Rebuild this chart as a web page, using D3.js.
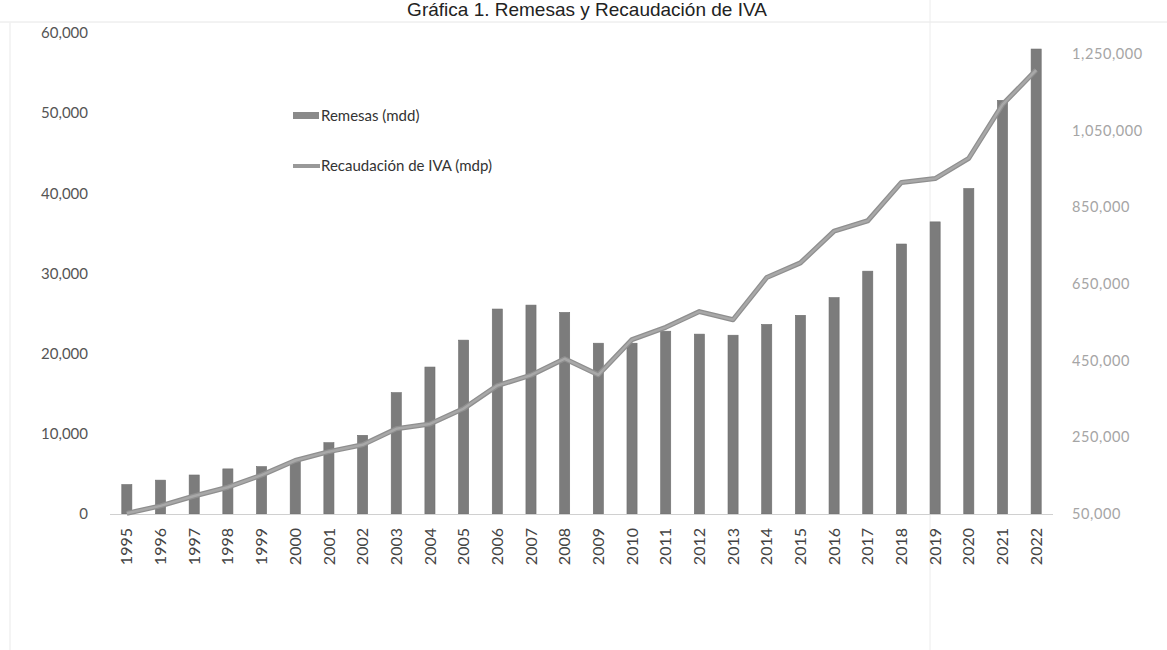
<!DOCTYPE html>
<html>
<head>
<meta charset="utf-8">
<script src="https://cdn.jsdelivr.net/npm/d3@7/dist/d3.min.js"></script>
<style>
  html, body { margin: 0; padding: 0; background: #ffffff; }
  svg { display: block; }
</style>
</head>
<body>
<svg id="chart" width="1167" height="650"></svg>
<script>
// ---- data ----
const years = ["1995","1996","1997","1998","1999","2000","2001","2002","2003","2004","2005","2006","2007","2008","2009","2010","2011","2012","2013","2014","2015","2016","2017","2018","2019","2020","2021","2022"];
const remesas = [3673, 4224, 4865, 5627, 5910, 6573, 8895, 9815, 15139, 18332, 21688, 25567, 26059, 25145, 21306, 21304, 22803, 22438, 22303, 23647, 24785, 26993, 30291, 33677, 36439, 40601, 51594, 58000];
const iva = [51759, 71250, 96934, 119839, 151340, 189606, 212636, 230637, 272149, 285023, 325000, 385000, 412000, 455000, 413000, 505000, 537000, 578000, 556800, 667000, 705000, 788000, 815000, 915000, 925000, 978000, 1118000, 1208000];
const leftTicks = [0, 10000, 20000, 30000, 40000, 50000, 60000];
const rightTicks = [50000, 250000, 450000, 650000, 850000, 1050000, 1250000];
const titleText = "Gráfica 1. Remesas y Recaudación de IVA";
const legendLabels = ["Remesas (mdd)", "Recaudación de IVA (mdp)"];

// ---- layout ----
const svg = d3.select("#chart");
const plot = { left: 110, right: 1053, top: 33, bottom: 514 };

const x = d3.scaleBand().domain(years).range([plot.left, plot.right]).paddingInner(0.7).paddingOuter(0.35);
const yL = d3.scaleLinear().domain([0, 60000]).range([plot.bottom, plot.top]);
const yR = d3.scaleLinear().domain([50000, 1250000]).range([plot.bottom, 54]);

const fmt = d3.format(",");

// faint frame / scan lines
svg.append("line").attr("x1", 0).attr("x2", 1167).attr("y1", 22).attr("y2", 22)
  .attr("stroke", "#e6e6e6").attr("stroke-width", 1);
svg.append("line").attr("x1", 10).attr("x2", 10).attr("y1", 22).attr("y2", 650)
  .attr("stroke", "#f0f0f0").attr("stroke-width", 1.5);
svg.append("line").attr("x1", 930).attr("x2", 930).attr("y1", 0).attr("y2", 650)
  .attr("stroke", "#ececec").attr("stroke-width", 1);

// title
svg.append("text")
  .attr("x", 587).attr("y", 16)
  .attr("text-anchor", "middle")
  .attr("font-family", "Liberation Sans, Arial, sans-serif")
  .attr("font-size", 19)
  .attr("fill", "#222")
  .text(titleText);

// bars
svg.append("g").selectAll("rect")
  .data(years.map((yr, i) => ({ yr, v: remesas[i] })))
  .join("rect")
  .attr("x", d => x(d.yr))
  .attr("width", x.bandwidth())
  .attr("y", d => yL(d.v))
  .attr("height", d => yL(0) - yL(d.v))
  .attr("fill", "#7c7c7c")
  .attr("stroke", "#6e6e6e")
  .attr("stroke-width", 0.6);

// baseline
svg.append("line")
  .attr("x1", plot.left).attr("x2", plot.right)
  .attr("y1", yL(0) + 0.5).attr("y2", yL(0) + 0.5)
  .attr("stroke", "#d0d0d0").attr("stroke-width", 1);

// IVA line
const line = d3.line()
  .x((d, i) => x(years[i]) + x.bandwidth() / 2)
  .y(d => yR(d));
svg.append("path")
  .datum(iva)
  .attr("d", line)
  .attr("fill", "none")
  .attr("stroke", "#8f8f8f")
  .attr("stroke-width", 5)
  .attr("stroke-linejoin", "round");
svg.append("path")
  .datum(iva)
  .attr("d", line)
  .attr("fill", "none")
  .attr("stroke", "#a8a8a8")
  .attr("stroke-width", 2.5)
  .attr("stroke-linejoin", "round");

// left axis
const gL = svg.append("g")
  .attr("transform", `translate(${plot.left},0)`)
  .call(d3.axisLeft(yL).tickValues(leftTicks).tickFormat(fmt).tickSize(0).tickPadding(22));
gL.select(".domain").remove();
gL.selectAll("text")
  .attr("font-family", "Lato, 'Open Sans', sans-serif")
  .attr("font-size", 15)
  .attr("fill", "#555");

// right axis
const gR = svg.append("g")
  .attr("transform", `translate(${plot.right},0)`)
  .call(d3.axisRight(yR).tickValues(rightTicks).tickFormat(fmt).tickSize(0).tickPadding(19));
gR.select(".domain").remove();
gR.selectAll("text")
  .attr("font-family", "Lato, 'Open Sans', sans-serif")
  .attr("font-size", 14.5)
  .attr("letter-spacing", 0.6)
  .attr("fill", "#a5a5a5");

// x axis (rotated labels)
const gX = svg.append("g")
  .attr("transform", `translate(0,${plot.bottom})`)
  .call(d3.axisBottom(x).tickSize(0).tickPadding(0));
gX.select(".domain").remove();
gX.selectAll("text")
  .attr("font-family", "Lato, 'Open Sans', sans-serif")
  .attr("font-size", 16)
  .attr("fill", "#444")
  .attr("text-anchor", "end")
  .attr("transform", "rotate(-90)")
  .attr("x", -14)
  .attr("y", 0)
  .attr("dy", "0.35em");

// legend
const lg = svg.append("g");
lg.append("rect").attr("x", 293).attr("y", 112).attr("width", 26).attr("height", 7).attr("fill", "#8a8a8a");
lg.append("text").attr("x", 321).attr("y", 116).attr("dy", "0.35em")
  .attr("font-family", "Lato, 'Open Sans', sans-serif").attr("font-size", 15).attr("fill", "#333")
  .text(legendLabels[0]);
lg.append("line").attr("x1", 293).attr("x2", 320).attr("y1", 166).attr("y2", 166)
  .attr("stroke", "#999").attr("stroke-width", 4);
lg.append("text").attr("x", 321).attr("y", 166).attr("dy", "0.35em")
  .attr("font-family", "Lato, 'Open Sans', sans-serif").attr("font-size", 15).attr("fill", "#333")
  .text(legendLabels[1]);
</script>
</body>
</html>
